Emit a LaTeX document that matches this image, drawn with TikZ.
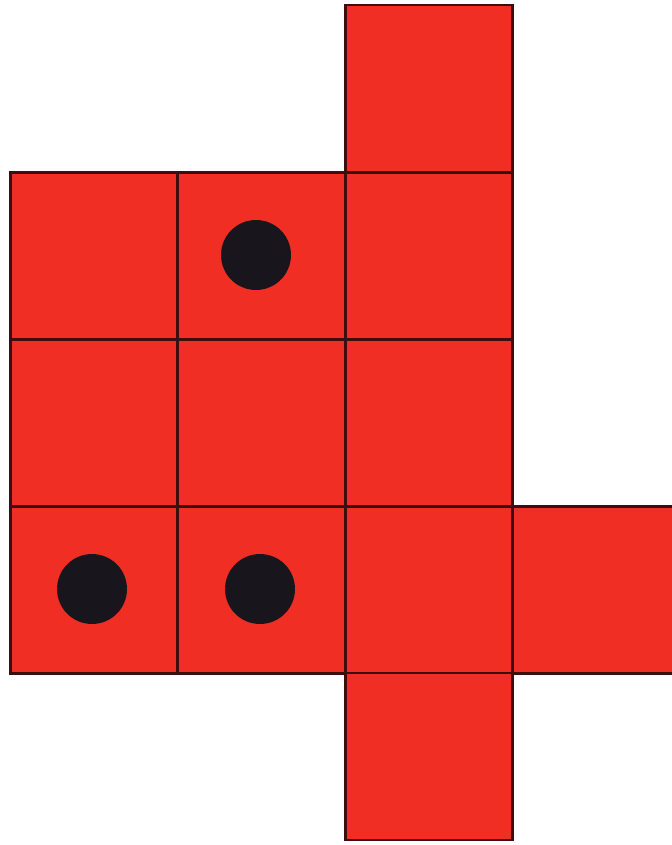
\documentclass[tikz,border=0pt]{standalone}
\usepackage{tikz}
\usetikzlibrary{positioning}

\definecolor{cellred}{RGB}{240,46,36}
\definecolor{celledge}{RGB}{60,14,14}
\definecolor{dotblack}{RGB}{24,22,28}

\begin{document}
\begin{tikzpicture}[x=0.02cm,y=-0.02cm,
 cell/.style={draw=celledge,fill=cellred,line width=1.6pt,minimum width=3.35cm,minimum height=3.34cm,inner sep=0pt,outer sep=0pt},
 pip/.style={circle,fill=dotblack,minimum size=1.40cm,inner sep=0pt}]
\useasboundingbox (0,0) rectangle (672,845);
\clip (0,0) rectangle (672,845);
\fill[white] (0,0) rectangle (672,845);
% top square
\node[cell] (top) at (429,88.5) {};
% three rows of three
\node[cell] (a1) at (94,256) {};
\node[cell] (a2) at (261.5,256) {};
\node[cell] (a3) at (429,256) {};
\node[cell] (b1) at (94,423.5) {};
\node[cell] (b2) at (261.5,423.5) {};
\node[cell] (b3) at (429,423.5) {};
\node[cell] (c1) at (94,590) {};
\node[cell] (c2) at (261.5,590) {};
\node[cell] (c3) at (429,590) {};
% right square, runs off the edge
\node[cell] (right) at (596.5,590) {};
% bottom square
\node[cell] (bottom) at (429,756.5) {};
% pips
\node[pip] (p1) at (256,255) {};
\node[pip] (p2) at (92,589) {};
\node[pip] (p3) at (260,589) {};
\end{tikzpicture}
\end{document}
